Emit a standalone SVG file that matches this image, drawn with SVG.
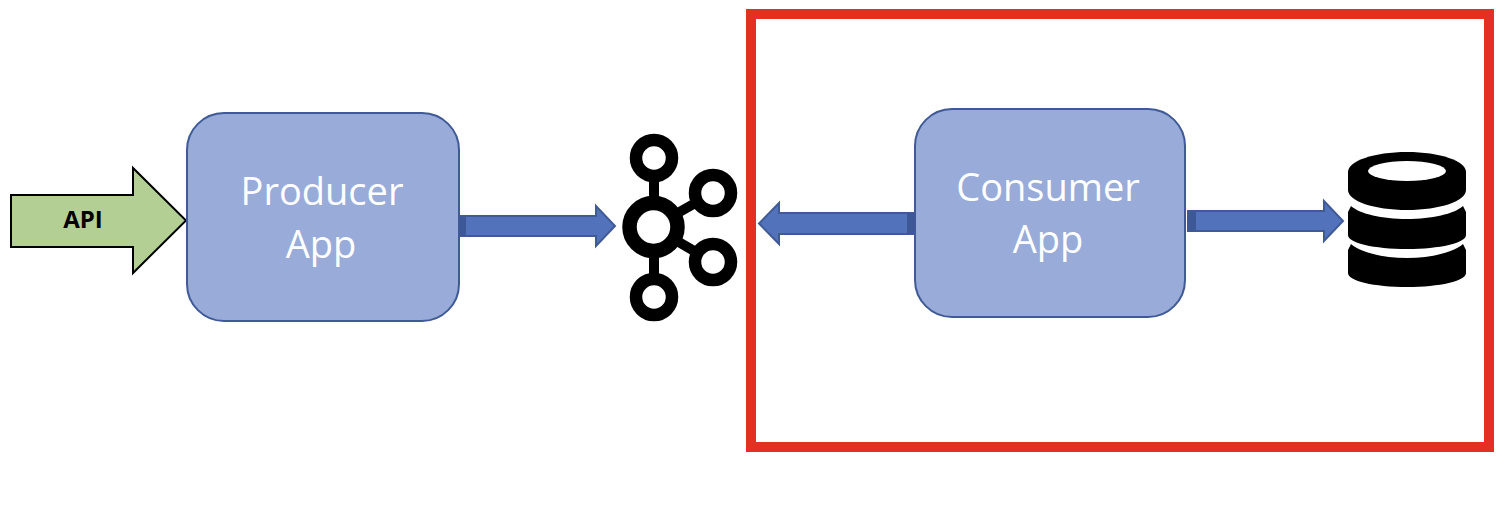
<svg xmlns="http://www.w3.org/2000/svg" width="1512" height="520" viewBox="0 0 1512 520">
<style>
.box{fill:#98abd9;stroke:#3f5a96;stroke-width:2}
.boxtext{font-family:"Open Sans","Noto Sans",sans-serif;font-size:38px;fill:#fff;text-anchor:middle}
.flow{fill:#5273bc;stroke:#3f5a96;stroke-width:2}
.band{fill:#3d5896}
.ring{fill:#fff;stroke:#000;stroke-width:12.5}
.link{stroke:#000;stroke-width:10;fill:none}
</style>
<rect width="1512" height="520" fill="#fff"/>
<g id="connectors">
<path class="flow" d="M460 216H596V206L615 226L596 246V236H460Z"/>
<rect class="band" x="460" y="216" width="6" height="20"/>
<path class="flow" d="M915 213H779V203L759 223.500L779 244V234H915Z"/>
<rect class="band" x="907" y="213" width="8" height="21"/>
<path class="flow" d="M1188 211H1324V201L1343 221L1324 241V231H1188Z"/>
<rect class="band" x="1188" y="211" width="8" height="20"/>
</g>
<g id="highlight"><rect x="751" y="14" width="738" height="433" fill="none" stroke="#e33022" stroke-width="10"/></g>
<g id="api">
<path d="M11 195H133V168L186 220.500L133 273V247H11Z" fill="#b3cf94" stroke="#000" stroke-width="2"/>
<text x="83" y="228" font-family="'Open Sans','Noto Sans',sans-serif" font-size="24" font-weight="700" text-anchor="middle" fill="#000">API</text>
</g>
<g id="producer">
<rect class="box" x="187" y="113" width="272" height="208" rx="37"/>
<text class="boxtext" x="322" y="205">Producer</text>
<text class="boxtext" x="321" y="258">App</text>
</g>
<g id="kafka">
<path class="link" d="M654 158V297M653 227L713 193M653 227L713 262"/>
<circle class="ring" cx="654" cy="158" r="18"/>
<circle class="ring" cx="713" cy="193" r="18"/>
<circle class="ring" cx="713" cy="262" r="18"/>
<circle class="ring" cx="654" cy="297" r="18"/>
<circle cx="653.500" cy="227" r="24" fill="#fff" stroke="#000" stroke-width="14.500"/>
</g>
<g id="consumer">
<rect class="box" x="915" y="109" width="270" height="208" rx="37"/>
<text class="boxtext" x="1048" y="201">Consumer</text>
<text class="boxtext" x="1048" y="253">App</text>
</g>
<g id="database">
<path d="M1348 172C1348 161 1374 152 1407 152C1440 152 1466 161 1466 172V190C1466 201 1440 210 1407 210C1374 210 1348 201 1348 190Z" fill="#000"/>
<ellipse cx="1407" cy="171" rx="39" ry="10" fill="#fff"/>
<path d="M1348 212L1351 206C1360 214 1382 219 1407 219C1432 219 1454 214 1463 206L1466 212V235C1466 243 1440 249 1407 249C1374 249 1348 243 1348 235Z" fill="#000"/>
<path d="M1348 250L1351 244C1360 252 1382 258 1407 258C1432 258 1454 252 1463 244L1466 250V273C1466 281 1440 287 1407 287C1374 287 1348 281 1348 273Z" fill="#000"/>
</g>
</svg>
